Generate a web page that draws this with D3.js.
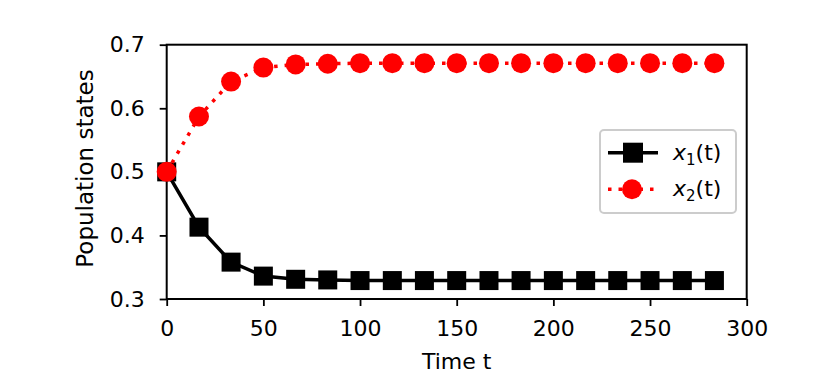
<!DOCTYPE html>
<html>
<head>
<meta charset="utf-8">
<script src="https://cdn.jsdelivr.net/npm/d3@7"></script>
<style>
  body { margin: 0; background: #fff; }
  svg text { font-family: "DejaVu Sans", sans-serif; fill: #000; }
</style>
</head>
<body>
<div id="chart"></div>
<script>
// data
const times = [0, 16.7, 33.3, 50, 66.7, 83.3, 100, 116.7, 133.3, 150, 166.7, 183.3, 200, 216.7, 233.3, 250, 266.7, 283.3];
const x1 = [0.5, 0.413, 0.358, 0.336, 0.331, 0.330, 0.329, 0.329, 0.329, 0.329, 0.329, 0.329, 0.329, 0.329, 0.329, 0.329, 0.329, 0.329];
const x2 = [0.5, 0.587, 0.642, 0.664, 0.669, 0.670, 0.671, 0.671, 0.671, 0.671, 0.671, 0.671, 0.671, 0.671, 0.671, 0.671, 0.671, 0.671];
const xTicks = [0, 50, 100, 150, 200, 250, 300];
const yTicks = [0.3, 0.4, 0.5, 0.6, 0.7];

const width = 830, height = 374;
const margin = { top: 44.7, right: 83.3, bottom: 75, left: 166.7 };
const fs = 22;

const svg = d3.select("#chart").append("svg")
  .attr("width", width).attr("height", height);

const x = d3.scaleLinear().domain([0, 300]).range([margin.left, width - margin.right]);
const y = d3.scaleLinear().domain([0.3, 0.7]).range([height - margin.bottom, margin.top]);

// axes
const xAxis = svg.append("g")
  .attr("transform", `translate(0,${height - margin.bottom})`)
  .call(d3.axisBottom(x).tickValues(xTicks).tickSize(7).tickPadding(14).tickFormat(d3.format("d")));
const yAxis = svg.append("g")
  .attr("transform", `translate(${margin.left},0)`)
  .call(d3.axisLeft(y).tickValues(yTicks).tickSize(7).tickPadding(15).tickFormat(d3.format(".1f")));
[xAxis, yAxis].forEach(a => {
  a.select(".domain").remove();
  a.selectAll(".tick line").attr("stroke", "#000").attr("stroke-width", 1.8);
  a.selectAll(".tick text").attr("font-size", fs).attr("font-family", "DejaVu Sans");
});

// frame
svg.append("rect")
  .attr("x", margin.left).attr("y", margin.top)
  .attr("width", width - margin.right - margin.left)
  .attr("height", height - margin.bottom - margin.top)
  .attr("fill", "none").attr("stroke", "#000").attr("stroke-width", 2);

// labels
svg.append("text")
  .attr("x", (margin.left + width - margin.right) / 2).attr("y", 369)
  .attr("text-anchor", "middle").attr("font-size", fs)
  .text("Time t");
svg.append("text")
  .attr("transform", `translate(93,168.5) rotate(-90)`)
  .attr("text-anchor", "middle").attr("font-size", 23)
  .text("Population states");

const line = d3.line().x(d => x(d[0])).y(d => y(d[1]));
const s1 = times.map((t, i) => [t, x1[i]]);
const s2 = times.map((t, i) => [t, x2[i]]);

// x1 series
svg.append("path").datum(s1).attr("d", line)
  .attr("fill", "none").attr("stroke", "#000").attr("stroke-width", 3.5);
svg.selectAll(".sq").data(s1).enter().append("rect")
  .attr("x", d => x(d[0]) - 9.5).attr("y", d => y(d[1]) - 9.5)
  .attr("width", 19).attr("height", 19).attr("fill", "#000");

// x2 series
svg.append("path").datum(s2).attr("d", line)
  .attr("fill", "none").attr("stroke", "red").attr("stroke-width", 3.5)
  .attr("stroke-dasharray", "3.5 7");
svg.selectAll(".dot").data(s2).enter().append("circle")
  .attr("cx", d => x(d[0])).attr("cy", d => y(d[1]))
  .attr("r", 10).attr("fill", "red");

// legend
const lg = svg.append("g");
lg.append("rect").attr("x", 600).attr("y", 130).attr("width", 136).attr("height", 83)
  .attr("rx", 4).attr("fill", "#fff").attr("stroke", "#ccc").attr("stroke-width", 2);
const entries = [
  { sub: "1", color: "#000", dash: null, shape: "sq", yy: 152.7 },
  { sub: "2", color: "red", dash: "3.5 7", shape: "dot", yy: 189.3 }
];
entries.forEach(e => {
  lg.append("line").attr("x1", 608).attr("x2", 658).attr("y1", e.yy).attr("y2", e.yy)
    .attr("stroke", e.color).attr("stroke-width", 3.5)
    .attr("stroke-dasharray", e.dash);
  if (e.shape === "sq") {
    lg.append("rect").attr("x", 623).attr("y", e.yy - 10).attr("width", 20).attr("height", 20).attr("fill", e.color);
  } else {
    lg.append("circle").attr("cx", 632).attr("cy", e.yy).attr("r", 10).attr("fill", e.color);
  }
  const t = lg.append("text").attr("x", 673).attr("y", e.yy + 7).attr("font-size", fs);
  t.append("tspan").attr("font-style", "italic").text("x");
  t.append("tspan").attr("font-size", 15).attr("dy", 5).text(e.sub);
  t.append("tspan").attr("dy", -5).text("(t)");
});
</script>
</body>
</html>
